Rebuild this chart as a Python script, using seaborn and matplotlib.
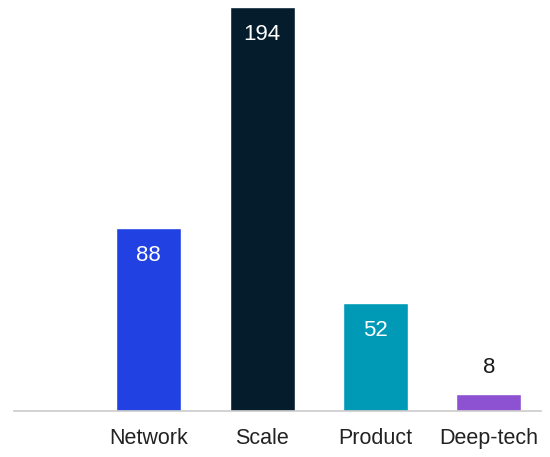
import matplotlib
matplotlib.use("Agg")
import matplotlib.pyplot as plt
import seaborn as sns
import pandas as pd

categories = ["Network", "Scale", "Product", "Deep-tech"]
values = [88, 194, 52, 8]
colors = ["#2141E3", "#051C2C", "#009AB6", "#8D52D1"]

sns.set_theme(style="white")
plt.rcParams["font.family"] = ["Liberation Sans", "DejaVu Sans"]

df = pd.DataFrame({"category": categories, "value": values})

fig = plt.figure(figsize=(5.5, 4.57), dpi=100)
ax = fig.add_axes([14 / 550, 46 / 457, 527 / 550, 403.5 / 457])

sns.barplot(data=df, x="category", y="value", hue="category",
            palette=colors, order=categories, hue_order=categories,
            width=0.574, saturation=1, legend=False, ax=ax)

ax.set_xlim(-1.19, 3.46)
ax.set_ylim(0, 194)

for i, (cat, v) in enumerate(zip(categories, values)):
    if v > 30:
        ax.annotate(str(v), xy=(i, v), xytext=(0, -12), textcoords="offset points",
                    ha="center", va="top", color="white", fontsize=16)
    else:
        ax.annotate(str(v), xy=(i, v), xytext=(0, 12), textcoords="offset points",
                    ha="center", va="bottom", color="#1a1a1a", fontsize=16)

for s in ["top", "right", "left"]:
    ax.spines[s].set_visible(False)
ax.spines["bottom"].set_color("#cccccc")
ax.spines["bottom"].set_linewidth(1.2)
ax.set_yticks([])
ax.set_xlabel("")
ax.set_ylabel("")
ax.tick_params(axis="x", length=0, pad=12.5, labelsize=15.5, labelcolor="#222222")

fig.savefig("out.png", dpi=100)
